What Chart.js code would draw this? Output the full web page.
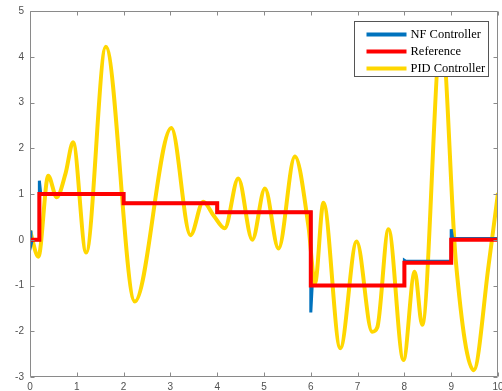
<!DOCTYPE html>
<html>
<head>
<meta charset="utf-8">
<script src="https://cdn.jsdelivr.net/npm/chart.js@4.4.0/dist/chart.umd.min.js"></script>
<style>
  html, body { margin: 0; padding: 0; background: #ffffff; }
  #wrap { width: 502px; height: 391px; position: relative; }
</style>
</head>
<body>
<div id="wrap"><canvas id="c" width="502" height="391"></canvas></div>
<script>
// ---- data ----
const seriesLabels = ["NF Controller", "Reference", "PID Controller"];

const xTicks = [0, 1, 2, 3, 4, 5, 6, 7, 8, 9, 10];
const yTicks = [-3, -2, -1, 0, 1, 2, 3, 4, 5];

const refX = [0, 0.2, 0.2, 2, 2, 4, 4, 6, 6, 8, 8, 9, 9, 10];
const refY = [0, 0, 1, 1, 0.8, 0.8, 0.6, 0.6, -1, -1, -0.5, -0.5, 0, 0];

const nfX = [0, 0.02, 0.05, 0.2, 0.2, 0.23, 2, 2, 4, 4, 6, 6, 6.03, 8, 8, 8.03, 9, 9, 9.03, 10];
const nfY = [0.2, -0.12, 0, 0, 1.29, 1, 1, 0.8, 0.8, 0.6, 0.6, -1.59, -1, -1, -0.45, -0.47, -0.47, 0.23, 0.03, 0.03];

const pidX = [0.00, 0.18, 0.39, 0.57, 0.76, 0.92, 1.20, 1.62, 2.24, 3.02, 3.43, 3.70, 3.93, 4.16, 4.45, 4.75,
              5.02, 5.31, 5.66, 5.95, 6.09, 6.27, 6.63, 6.98, 7.31, 7.42, 7.66, 7.98, 8.22, 8.38, 8.79,
              9.10, 9.48, 9.80, 10.0];
const pidY = [0.20, -0.37, 1.40, 0.93, 1.45, 2.13, -0.28, 4.22, -1.35, 2.44, 0.10, 0.83, 0.52, 0.25, 1.34, 0.00,
              1.12, -0.19, 1.82, 0.29, -0.95, 0.81, -2.37, -0.04, -2.01, -1.92, 0.23, -2.63, -0.70, -1.86, 4.50,
              -0.48, -2.85, -0.55, 1.02];

const colNF = "#0072BD";
const colRef = "#FF0000";
const colPID = "#FFD700";

function pts(xs, ys) { return xs.map((x, i) => ({ x: x, y: ys[i] })); }

// frame with inward ticks (MATLAB style) and in-plot legend
const framePlugin = {
  id: "frame",
  afterDatasetsDraw(chart) {
    const ctx = chart.ctx, a = chart.chartArea;
    const xs = chart.scales.x, ys = chart.scales.y;
    ctx.save();
    ctx.strokeStyle = "#8a8a8a";
    ctx.lineWidth = 1;
    const L = Math.round(a.left) + 0.5, R = Math.round(a.right) - 0.5;
    const T = Math.round(a.top) + 0.5, B = Math.round(a.bottom) - 0.5;
    ctx.beginPath();
    ctx.rect(L, T, R - L, B - T);
    const tl = 4;
    xTicks.forEach(v => {
      const p = Math.round(xs.getPixelForValue(v)) + 0.5;
      ctx.moveTo(p, B); ctx.lineTo(p, B - tl);
      ctx.moveTo(p, T); ctx.lineTo(p, T + tl);
    });
    yTicks.forEach(v => {
      const p = Math.round(ys.getPixelForValue(v)) + 0.5;
      ctx.moveTo(L, p); ctx.lineTo(L + tl, p);
      ctx.moveTo(R, p); ctx.lineTo(R - tl, p);
    });
    ctx.stroke();
    ctx.restore();
  },
  afterDraw(chart) {
    const ctx = chart.ctx, a = chart.chartArea;
    const w = 134, h = 55;
    const left = Math.round(a.right - 10.5 - w) + 0.5;
    const top = Math.round(a.top + 10) + 0.5;
    ctx.save();
    ctx.fillStyle = "#ffffff";
    ctx.fillRect(left, top, w, h);
    ctx.strokeStyle = "#555555";
    ctx.lineWidth = 1;
    ctx.strokeRect(left, top, w, h);
    const rows = [13, 30, 47];
    ctx.font = "12.5px 'Liberation Serif', 'Times New Roman', serif";
    ctx.textBaseline = "middle";
    ctx.fillStyle = "#000000";
    chart.data.datasets.forEach((ds, i) => {
      const y = top + rows[i];
      ctx.beginPath();
      ctx.strokeStyle = ds.borderColor;
      ctx.lineWidth = 4;
      ctx.moveTo(left + 12, y);
      ctx.lineTo(left + 52, y);
      ctx.stroke();
      ctx.fillText(ds.label, left + 56, y + 0.5);
    });
    ctx.restore();
  }
};

new Chart(document.getElementById("c"), {
  type: "line",
  data: {
    datasets: [
      { label: seriesLabels[0], data: pts(nfX, nfY), borderColor: colNF, backgroundColor: colNF,
        borderWidth: 3, pointRadius: 0, tension: 0, order: 1 },
      { label: seriesLabels[1], data: pts(refX, refY), borderColor: colRef, backgroundColor: colRef,
        borderWidth: 4, pointRadius: 0, tension: 0, order: 0 },
      { label: seriesLabels[2], data: pts(pidX, pidY), borderColor: colPID, backgroundColor: colPID,
        borderWidth: 4, pointRadius: 0, cubicInterpolationMode: "monotone", order: 2 }
    ]
  },
  options: {
    responsive: false,
    animation: false,
    layout: { padding: { top: 11, right: 4, left: 0, bottom: 0 } },
    plugins: { legend: { display: false }, tooltip: { enabled: false } },
    scales: {
      x: {
        type: "linear", min: 0, max: 10,
        afterBuildTicks: s => { s.ticks = xTicks.map(v => ({ value: v })); },
        afterFit: s => { s.height = 14; s.paddingLeft = 0; s.paddingRight = 0; },
        grid: { display: false, drawTicks: false },
        border: { display: false },
        ticks: { padding: 4, color: "#505050", maxRotation: 0,
                 font: { family: "'Liberation Sans', Arial, sans-serif", size: 10 } }
      },
      y: {
        type: "linear", min: -3, max: 5,
        afterBuildTicks: s => { s.ticks = yTicks.map(v => ({ value: v })); },
        afterFit: s => { s.width = 30; s.paddingTop = 0; s.paddingBottom = 0; },
        grid: { display: false, drawTicks: false },
        border: { display: false },
        ticks: { padding: 6, color: "#505050",
                 font: { family: "'Liberation Sans', Arial, sans-serif", size: 10 } }
      }
    }
  },
  plugins: [framePlugin]
});
</script>
</body>
</html>
